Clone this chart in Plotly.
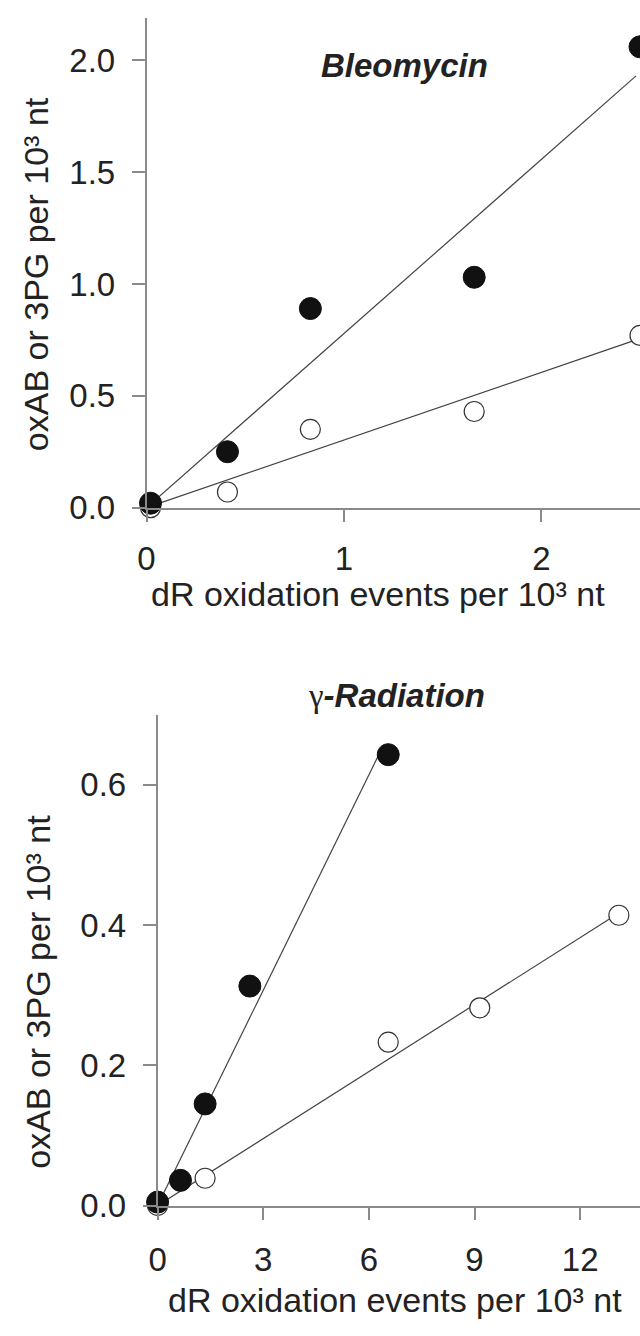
import plotly.graph_objects as go

# ---------------- data ----------------
bleo_x = [0.02, 0.41, 0.83, 1.66, 2.50]
bleo_filled_y = [0.02, 0.25, 0.89, 1.03, 2.06]
bleo_open_y = [0.00, 0.07, 0.35, 0.43, 0.77]
bleo_fit_x = [0.0, 2.48]
bleo_fit_filled_y = [0.0, 1.93]
bleo_fit_open_y = [0.0, 0.75]

gam_filled_x = [0.0, 0.65, 1.35, 2.62, 6.55]
gam_filled_y = [0.005, 0.036, 0.145, 0.313, 0.643]
gam_open_x = [0.0, 1.35, 6.55, 9.15, 13.10]
gam_open_y = [0.0, 0.039, 0.233, 0.282, 0.414]
gam_fit_filled_x = [0.0, 6.40]
gam_fit_filled_y = [0.0, 0.655]
gam_fit_open_x = [0.0, 13.00]
gam_fit_open_y = [0.0, 0.414]

bleo_xticks = [0, 1, 2]
bleo_yticks = [0.0, 0.5, 1.0, 1.5, 2.0]
gam_xticks = [0, 3, 6, 9, 12]
gam_yticks = [0.0, 0.2, 0.4, 0.6]

x_title = "dR oxidation events per 10³ nt"
y_title = "oxAB or 3PG per 10³ nt"

W, H = 640, 1336
FONT = "Liberation Sans, Arial, sans-serif"
AXC = "#8a8a8a"
TXT = "#222222"
LINEC = "#444444"
MS = 22


def px(x):
    return x / W


def py(y):
    return 1 - y / H


fig = go.Figure()

line_style = dict(color=LINEC, width=1.2)
filled_marker = dict(size=MS, color="#111111", line=dict(color="#111111", width=1))
open_marker = dict(size=MS - 2, color="white", line=dict(color="#333333", width=1.2))

# top panel
fig.add_trace(go.Scatter(x=bleo_fit_x, y=bleo_fit_filled_y, mode="lines", line=line_style,
                         xaxis="x", yaxis="y", cliponaxis=False, showlegend=False))
fig.add_trace(go.Scatter(x=bleo_fit_x, y=bleo_fit_open_y, mode="lines", line=line_style,
                         xaxis="x", yaxis="y", cliponaxis=False, showlegend=False))
fig.add_trace(go.Scatter(x=bleo_x, y=bleo_open_y, mode="markers", marker=open_marker,
                         xaxis="x", yaxis="y", cliponaxis=False, showlegend=False))
fig.add_trace(go.Scatter(x=bleo_x, y=bleo_filled_y, mode="markers", marker=filled_marker,
                         xaxis="x", yaxis="y", cliponaxis=False, showlegend=False))

# bottom panel
fig.add_trace(go.Scatter(x=gam_fit_filled_x, y=gam_fit_filled_y, mode="lines", line=line_style,
                         xaxis="x2", yaxis="y2", cliponaxis=False, showlegend=False))
fig.add_trace(go.Scatter(x=gam_fit_open_x, y=gam_fit_open_y, mode="lines", line=line_style,
                         xaxis="x2", yaxis="y2", cliponaxis=False, showlegend=False))
fig.add_trace(go.Scatter(x=gam_open_x, y=gam_open_y, mode="markers", marker=open_marker,
                         xaxis="x2", yaxis="y2", cliponaxis=False, showlegend=False))
fig.add_trace(go.Scatter(x=gam_filled_x, y=gam_filled_y, mode="markers", marker=filled_marker,
                         xaxis="x2", yaxis="y2", cliponaxis=False, showlegend=False))

axis_common = dict(showline=True, linecolor=AXC, linewidth=1.5, ticks="outside",
                   ticklen=13, tickwidth=1.5, tickcolor=AXC, showgrid=False, zeroline=False,
                   tickfont=dict(family=FONT, size=33, color=TXT))

fig.update_layout(
    width=W, height=H,
    margin=dict(l=0, r=0, t=0, b=0),
    paper_bgcolor="white", plot_bgcolor="white",
    xaxis=dict(domain=[px(139.5), 1.0], range=[0, 2.5], anchor="y", ticklabelstandoff=8,
               tickvals=bleo_xticks, ticktext=[str(v) for v in bleo_xticks], **axis_common),
    yaxis=dict(domain=[py(515), py(18)], range=[0, 2.19], anchor="x", ticklabelstandoff=10,
               tickvals=bleo_yticks, ticktext=[f"{v:.1f}" for v in bleo_yticks], **axis_common),
    xaxis2=dict(domain=[px(150.7), 1.0], range=[0, 13.7], anchor="y2", ticklabelstandoff=11,
                tickvals=gam_xticks, ticktext=[str(v) for v in gam_xticks], **axis_common),
    yaxis2=dict(domain=[py(1223), py(725)], range=[0, 0.70], anchor="x2", ticklabelstandoff=10,
                tickvals=gam_yticks, ticktext=[f"{v:.1f}" for v in gam_yticks], **axis_common),
)

ann_font = dict(family=FONT, size=34, color=TXT)
title_font = dict(family=FONT, size=33, color=TXT)
fig.add_annotation(x=px(374), y=py(603), xref="paper", yref="paper", text=x_title,
                   showarrow=False, font=ann_font, xanchor="center", yanchor="middle")
fig.add_annotation(x=px(391), y=py(1319), xref="paper", yref="paper", text=x_title,
                   showarrow=False, font=ann_font, xanchor="center", yanchor="middle")
fig.add_annotation(x=px(27.5), y=py(278), xref="paper", yref="paper", text=y_title, textangle=-90,
                   showarrow=False, font=ann_font, xanchor="center", yanchor="middle")
fig.add_annotation(x=px(29.5), y=py(1006), xref="paper", yref="paper", text=y_title, textangle=-90,
                   showarrow=False, font=ann_font, xanchor="center", yanchor="middle")
fig.add_annotation(x=px(401), y=py(66), xref="paper", yref="paper", text="<b><i>Bleomycin</i></b>",
                   showarrow=False, font=title_font, xanchor="center", yanchor="middle")
fig.add_annotation(x=px(393), y=py(706), xref="paper", yref="paper",
                   text="<span style=\"font-family:'Liberation Serif', serif\">γ</span><b><i>-Radiation</i></b>",
                   showarrow=False, font=title_font, xanchor="center", yanchor="middle")

fig.write_html("out.html")
